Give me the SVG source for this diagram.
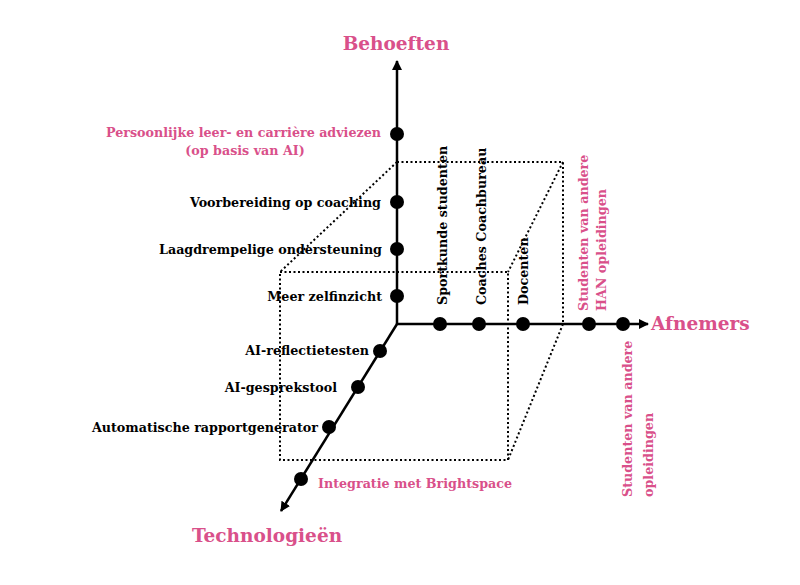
<svg xmlns="http://www.w3.org/2000/svg" width="800" height="585" viewBox="0 0 800 585">
<style>
.t{font-family:"DejaVu Serif","Liberation Serif",serif;font-weight:bold;font-size:12.7px;fill:#000}
.p{fill:#D9508A}
.big{font-size:18.5px}
.axis{stroke:#000;stroke-width:2.5;fill:none}
.dot{fill:#000}
.box{stroke:#000;stroke-width:2;fill:none;stroke-dasharray:2 2.5}
</style>
<defs>
<marker id="ar" viewBox="0 0 10 10" refX="9" refY="5" markerWidth="4" markerHeight="4" orient="auto" markerUnits="strokeWidth">
<path d="M0,0 L10,5 L0,10 z" fill="#000"/>
</marker>
</defs>
<rect width="800" height="585" fill="#fff"/>
<g id="box">
<path class="box" d="M280,272 H508 V460 H280 Z"/>
<path class="box" d="M397,162 H563 V324"/>
<path class="box" d="M397,162 L280,272"/>
<path class="box" d="M563,162 L508,272"/>
<path class="box" d="M563,324 L508,460"/>
</g>
<g id="connectors">
<line class="axis" x1="397" y1="324" x2="397" y2="61" marker-end="url(#ar)"/>
<line class="axis" x1="396" y1="324" x2="648" y2="324" marker-end="url(#ar)"/>
<line class="axis" x1="397" y1="324" x2="281" y2="511" marker-end="url(#ar)"/>
</g>
<g id="axis-labels">
<text class="t p big" x="396" y="50" text-anchor="middle">Behoeften</text>
<text class="t p big" x="651" y="330">Afnemers</text>
<text class="t p big" x="267" y="542" text-anchor="middle">Technologieën</text>
</g>
<g id="n-persoonlijk"><circle class="dot" cx="397" cy="134" r="7"/>
<text class="t p" x="381" y="137" text-anchor="end">Persoonlijke leer- en carrière adviezen</text>
<text class="t p" x="245" y="155" text-anchor="middle">(op basis van AI)</text></g>
<g id="n-voorbereiding"><circle class="dot" cx="397" cy="202" r="7"/>
<text class="t" x="381" y="207" text-anchor="end">Voorbereiding op coaching</text></g>
<g id="n-laagdrempelig"><circle class="dot" cx="397" cy="249" r="7"/>
<text class="t" x="382" y="254" text-anchor="end">Laagdrempelige ondersteuning</text></g>
<g id="n-zelfinzicht"><circle class="dot" cx="397" cy="296" r="7"/>
<text class="t" x="382" y="301" text-anchor="end">Meer zelfinzicht</text></g>
<g id="n-reflectie"><circle class="dot" cx="380" cy="351" r="7"/>
<text class="t" x="369" y="355" text-anchor="end">AI-reflectietesten</text></g>
<g id="n-gesprek"><circle class="dot" cx="358" cy="387" r="7"/>
<text class="t" x="337" y="392" text-anchor="end">AI-gesprekstool</text></g>
<g id="n-rapport"><circle class="dot" cx="329" cy="427" r="7"/>
<text class="t" x="318" y="432" text-anchor="end">Automatische rapportgenerator</text></g>
<g id="n-brightspace"><circle class="dot" cx="301" cy="479" r="7"/>
<text class="t p" x="318" y="488">Integratie met Brightspace</text></g>
<g id="n-sportkunde"><circle class="dot" cx="440" cy="324" r="7"/>
<text class="t" transform="translate(447,305) rotate(-90)">Sportkunde studenten</text></g>
<g id="n-coaches"><circle class="dot" cx="479" cy="324" r="7"/>
<text class="t" transform="translate(486,305) rotate(-90)">Coaches Coachbureau</text></g>
<g id="n-docenten"><circle class="dot" cx="523" cy="324" r="7"/>
<text class="t" transform="translate(528,305) rotate(-90)">Docenten</text></g>
<g id="n-han"><circle class="dot" cx="589" cy="324" r="7"/>
<text class="t p" transform="translate(588,311) rotate(-90)">Studenten van andere</text>
<text class="t p" transform="translate(606,311) rotate(-90)">HAN opleidingen</text></g>
<g id="n-andere"><circle class="dot" cx="623" cy="324" r="7"/>
<text class="t p" transform="translate(632,497) rotate(-90)">Studenten van andere</text>
<text class="t p" transform="translate(653,497) rotate(-90)">opleidingen</text></g>
</svg>
